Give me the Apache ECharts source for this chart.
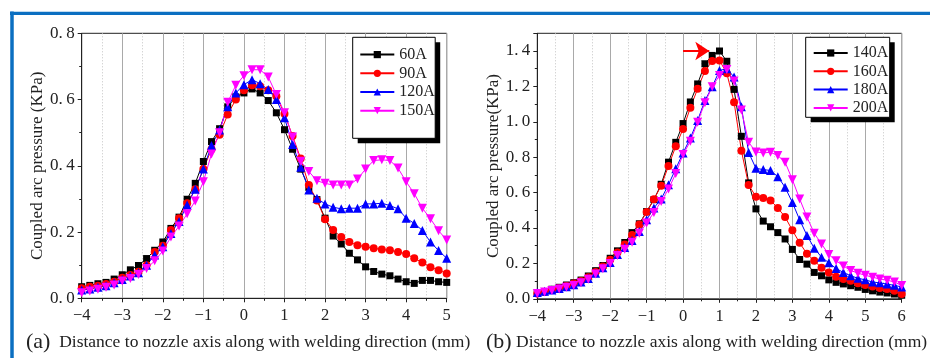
<!DOCTYPE html>
<html><head><meta charset="utf-8">
<script src="https://cdn.jsdelivr.net/npm/echarts@6/dist/echarts.min.js"></script>
<style>html,body{margin:0;padding:0;background:#fff}#c{width:930px;height:358px}</style>
</head><body><div id="c"></div>
<script>
// ---------- DATA ----------
const xLeft = [-4,-3.8,-3.6,-3.4,-3.2,-3,-2.8,-2.6,-2.4,-2.2,-2,-1.8,-1.6,-1.4,-1.2,-1,-0.8,-0.6,-0.4,-0.2,0,0.2,0.4,0.6,0.8,1,1.2,1.4,1.6,1.8,2,2.2,2.4,2.6,2.8,3,3.2,3.4,3.6,3.8,4,4.2,4.4,4.6,4.8,5];
const a60  = [0.035,0.039,0.044,0.048,0.058,0.071,0.086,0.099,0.12,0.145,0.17,0.211,0.245,0.299,0.347,0.413,0.473,0.512,0.578,0.608,0.62,0.632,0.62,0.597,0.56,0.509,0.45,0.39,0.335,0.298,0.242,0.188,0.164,0.136,0.116,0.095,0.081,0.073,0.068,0.058,0.05,0.045,0.054,0.054,0.05,0.048];
const a90  = [0.03,0.035,0.038,0.043,0.05,0.062,0.07,0.08,0.1,0.14,0.159,0.206,0.242,0.287,0.329,0.39,0.45,0.494,0.555,0.6,0.628,0.643,0.64,0.628,0.61,0.557,0.49,0.422,0.342,0.295,0.239,0.206,0.185,0.17,0.16,0.156,0.151,0.147,0.145,0.14,0.134,0.121,0.108,0.094,0.085,0.075];
const a120 = [0.025,0.028,0.033,0.038,0.047,0.057,0.067,0.077,0.1,0.131,0.156,0.196,0.232,0.282,0.329,0.39,0.461,0.508,0.578,0.62,0.645,0.66,0.648,0.63,0.6,0.545,0.464,0.396,0.327,0.302,0.285,0.275,0.27,0.272,0.272,0.285,0.285,0.287,0.28,0.27,0.242,0.226,0.205,0.17,0.144,0.121];
const a150 = [0.017,0.022,0.027,0.033,0.04,0.052,0.06,0.072,0.09,0.113,0.143,0.185,0.218,0.255,0.294,0.352,0.436,0.5,0.592,0.643,0.672,0.69,0.69,0.668,0.615,0.56,0.487,0.414,0.383,0.355,0.347,0.342,0.342,0.342,0.36,0.39,0.416,0.418,0.416,0.393,0.352,0.316,0.272,0.24,0.204,0.176];

const xRight = [-4,-3.8,-3.6,-3.4,-3.2,-3,-2.8,-2.6,-2.4,-2.2,-2,-1.8,-1.6,-1.4,-1.2,-1,-0.8,-0.6,-0.4,-0.2,0,0.2,0.4,0.6,0.8,1,1.2,1.4,1.6,1.8,2,2.2,2.4,2.6,2.8,3,3.2,3.4,3.6,3.8,4,4.2,4.4,4.6,4.8,5,5.2,5.4,5.6,5.8,6];
const b140 = [0.031,0.04,0.054,0.065,0.078,0.091,0.106,0.129,0.159,0.188,0.229,0.271,0.318,0.374,0.424,0.493,0.56,0.647,0.772,0.884,0.99,1.112,1.214,1.328,1.375,1.4,1.342,1.183,0.918,0.655,0.508,0.439,0.407,0.374,0.338,0.279,0.222,0.196,0.149,0.13,0.107,0.093,0.084,0.074,0.065,0.053,0.045,0.038,0.033,0.027,0.02];
const b160 = [0.03,0.038,0.05,0.06,0.073,0.087,0.1,0.122,0.152,0.182,0.22,0.262,0.307,0.36,0.42,0.49,0.562,0.639,0.75,0.862,0.96,1.079,1.187,1.287,1.343,1.347,1.274,1.111,0.837,0.643,0.577,0.569,0.556,0.513,0.462,0.387,0.316,0.254,0.215,0.175,0.149,0.124,0.112,0.102,0.088,0.078,0.069,0.061,0.055,0.045,0.027];
const b180 = [0.035,0.042,0.05,0.058,0.068,0.08,0.095,0.115,0.145,0.175,0.205,0.25,0.29,0.33,0.38,0.446,0.513,0.564,0.645,0.735,0.824,0.908,1.008,1.12,1.198,1.29,1.3,1.253,1.085,0.826,0.737,0.73,0.725,0.69,0.63,0.544,0.446,0.358,0.286,0.235,0.204,0.171,0.149,0.13,0.116,0.107,0.095,0.09,0.083,0.076,0.067];
const b200 = [0.03,0.038,0.047,0.055,0.065,0.075,0.09,0.11,0.14,0.17,0.2,0.245,0.28,0.32,0.37,0.428,0.488,0.55,0.62,0.708,0.815,0.89,0.998,1.108,1.198,1.262,1.296,1.23,1.066,0.884,0.83,0.824,0.828,0.809,0.772,0.673,0.564,0.462,0.37,0.31,0.25,0.215,0.186,0.16,0.145,0.133,0.122,0.112,0.105,0.095,0.075];

const namesLeft = ['60A','90A','120A','150A'];
const namesRight = ['140A','160A','180A','200A'];
const yNameLeft = 'Coupled arc pressure (KPa)';
const yNameRight = 'Coupled arc pressure(KPa)';
const xTitle = 'Distance to nozzle axis along with welding direction (mm)';

// ---------- CHART ----------
const FONT = '"Liberation Serif","Times New Roman",serif';
const TXT = '#222';
const colors = ['#000000','#ff0000','#0000ff','#ff00ff'];
const symbols = ['rect','circle','triangle','triangle'];
const sizes = [7,8,9,9];
const rot = [0,0,0,180];

function fmtY(v){ if (Math.abs(v*10 - Math.round(v*10))>1e-6 || Math.round(v*10)%2!==0) return ''; return v.toFixed(1).replace('.', '.\u2009'); }
function fmtX(v){ return String(v).replace('-', '\u2212'); }

function mk(name, xs, ys, k, idx) {
  return {
    name, type:'line', xAxisIndex:idx, yAxisIndex:idx,
    data: xs.map((x,i)=>[x, ys[i]]),
    symbol: symbols[k], symbolSize: sizes[k], symbolRotate: rot[k],
    showAllSymbol: true, animation:false,
    lineStyle:{color:colors[k], width:1},
    itemStyle:{color:colors[k]},
    emphasis:{disabled:true}
  };
}

function xAxis(idx, min, max){
  return {
    type:'value', gridIndex:idx, min, max, interval:1,
    axisLine:{show:true, onZero:false, lineStyle:{color:'#222', width:1}},
    axisTick:{show:true, length:4, lineStyle:{color:'#222'}},
    minorTick:{show:true, splitNumber:2, length:2.5, lineStyle:{color:'#222'}},
    splitLine:{show:true, lineStyle:{color:'#a9a9a9', width:1}},
    minorSplitLine:{show:true, lineStyle:{color:'#c4c4c4', width:1, type:[1,2]}},
    axisLabel:{formatter:fmtX, fontFamily:FONT, fontSize:16.5, color:TXT, margin:9, showMinLabel:true, showMaxLabel:true}
  };
}
function yAxis(idx, max, name, gap){
  return {
    type:'value', gridIndex:idx, min:0, max, interval:0.2,
    name, nameLocation:'middle', nameGap:gap, nameRotate:90,
    nameTextStyle:{fontFamily:FONT, fontSize:17, color:TXT},
    axisLine:{show:true, onZero:false, lineStyle:{color:'#222', width:1}},
    axisTick:{show:true, length:4, lineStyle:{color:'#222'}},
    minorTick:{show:true, splitNumber:2, length:2.5, lineStyle:{color:'#222'}},
    splitLine:{show:false},
    axisLabel:{formatter:fmtY, fontFamily:FONT, fontSize:17, color:TXT, margin:7}
  };
}
function legend(names, left, top, gap){
  return {
    data:names, orient:'vertical', left, top, padding:0,
    itemWidth:34, itemHeight:9, itemGap:gap, z:10,
    textStyle:{fontFamily:FONT, fontSize:16, color:TXT},
    selectedMode:false
  };
}
function box(x, y, w, h){
  return [
    {type:'rect', silent:true, z:8, shape:{x:x+5, y:y+5, width:w, height:h}, style:{fill:'#000'}},
    {type:'rect', silent:true, z:9, shape:{x:x, y:y, width:w, height:h}, style:{fill:'#fff', stroke:'#000', lineWidth:1}}
  ];
}

const series = [
  mk(namesLeft[0], xLeft, a60, 0, 0),
  mk(namesLeft[1], xLeft, a90, 1, 0),
  mk(namesLeft[2], xLeft, a120, 2, 0),
  mk(namesLeft[3], xLeft, a150, 3, 0),
  mk(namesRight[0], xRight, b140, 0, 1),
  mk(namesRight[1], xRight, b160, 1, 1),
  mk(namesRight[2], xRight, b180, 2, 1),
  mk(namesRight[3], xRight, b200, 3, 1)
];
// red arrow annotation pointing at the 140A peak
series[4].markLine = {
  silent:true, animation:false, symbol:['none','arrow'], symbolSize:[14,14],
  label:{show:false}, lineStyle:{color:'#ff0000', width:2, type:'solid'},
  data:[[{coord:[0.0,1.4]},{coord:[0.72,1.4]}]]
};

const titleRich = {a:{fontFamily:FONT, fontSize:22, fontWeight:'normal', color:TXT}, b:{fontFamily:FONT, fontSize:17.5, fontWeight:'normal', color:TXT}};
const option = {
  backgroundColor:'#fff',
  animation:false,
  grid:[
    {left:81.7, top:33.3, width:365, height:265, show:true, borderColor:'#222', borderWidth:1, backgroundColor:'#fff'},
    {left:537.3, top:33.3, width:364.4, height:265.5, show:true, borderColor:'#222', borderWidth:1, backgroundColor:'#fff'}
  ],
  xAxis:[xAxis(0,-4,5), xAxis(1,-4,6)],
  yAxis:[yAxis(0,0.8,yNameLeft,36), yAxis(1,1.5,yNameRight,32)],
  legend:[legend(namesLeft, 359.3, 46.6, 2.7), legend(namesRight, 812.7, 45, 2.3)],
  title:[
    {text:'{a|(a)}{b|  '+xTitle+'}', left:21, top:326, textStyle:{fontWeight:'normal', rich:titleRich}},
    {text:'{a|(b)}{b| '+xTitle+'}', left:481, top:326, textStyle:{fontWeight:'normal', rich:titleRich}}
  ],
  graphic:[
    ...box(352.7, 37.3, 82.5, 101),
    ...box(805.7, 37.3, 84, 80),
    {type:'line', silent:true, shape:{x1:10, y1:13.3, x2:930, y2:13.3}, style:{stroke:'#0b6fc1', lineWidth:3.3}, z:100},
    {type:'line', silent:true, shape:{x1:12, y1:11.6, x2:12, y2:358}, style:{stroke:'#0b6fc1', lineWidth:3.5}, z:100}
  ],
  series
};
const chart = echarts.init(document.getElementById('c'), null, {renderer:'canvas'});
chart.setOption(option);
</script></body></html>
